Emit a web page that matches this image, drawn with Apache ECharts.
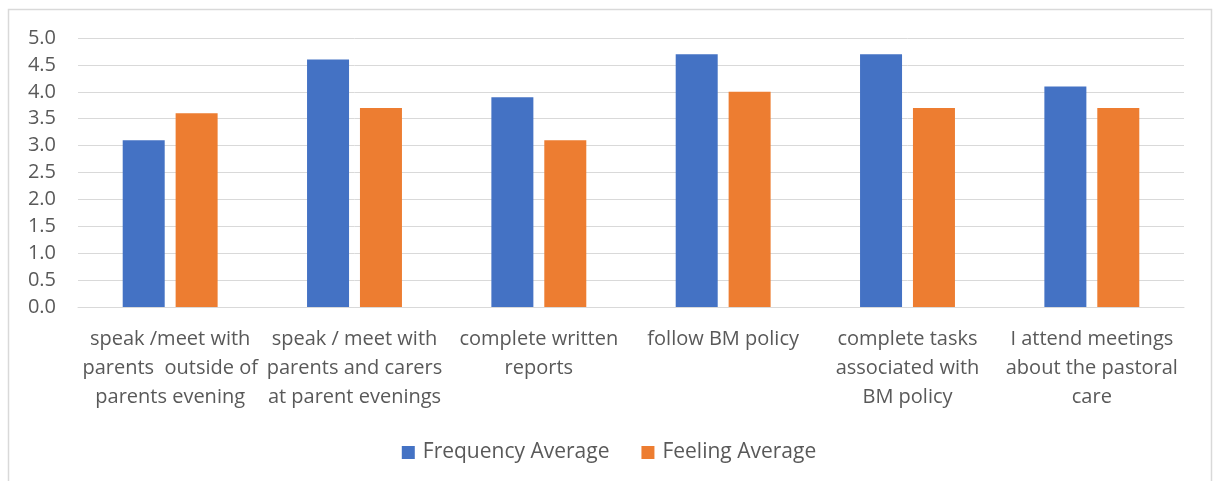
<!DOCTYPE html>
<html>
<head>
<meta charset="utf-8">
<script src="https://cdn.jsdelivr.net/npm/echarts@6/dist/echarts.min.js"></script>
<style>
  html, body { margin: 0; padding: 0; background: #ffffff; }
  #chart { width: 1218px; height: 481px; }
</style>
</head>
<body>
<div id="chart"></div>
<script>
// Category labels (line breaks as they wrap under each pair of bars)
const categories = [
  'speak /meet with\nparents  outside of\nparents evening',
  'speak / meet with\nparents and carers\nat parent evenings',
  'complete written\nreports',
  'follow BM policy',
  'complete tasks\nassociated with\nBM policy',
  'I attend meetings\nabout the pastoral\ncare'
];
const frequencyAverage = [3.1, 4.6, 3.9, 4.7, 4.7, 4.1];
const feelingAverage   = [3.6, 3.7, 3.1, 4.0, 3.7, 3.7];
const seriesNames = ['Frequency Average', 'Feeling Average'];

const FONT = '"Open Sans", "Noto Sans", sans-serif';
const TEXT = '#595959';

const chart = echarts.init(document.getElementById('chart'), null, { renderer: 'canvas' });
chart.setOption({
  animation: false,
  backgroundColor: '#ffffff',
  textStyle: { fontFamily: FONT },
  graphic: [{
    type: 'rect',
    shape: { x: 8.5, y: 9.5, width: 1203, height: 490 },
    style: { fill: 'none', stroke: '#d9d9d9', lineWidth: 1.5 },
    silent: true
  }],
  grid: { left: 78, right: 34, top: 38, bottom: 174, containLabel: false },
  legend: {
    data: seriesNames,
    bottom: 13,
    left: 'center',
    itemWidth: 13,
    itemHeight: 13,
    itemGap: 32,
    icon: 'rect',
    textStyle: { color: TEXT, fontSize: 21, fontFamily: FONT, padding: [0, 0, 0, 3] }
  },
  xAxis: {
    type: 'category',
    data: categories,
    axisTick: { show: false },
    axisLine: { show: true, lineStyle: { color: '#d9d9d9', width: 1 } },
    axisLabel: {
      interval: 0,
      color: TEXT,
      fontSize: 20,
      lineHeight: 29,
      margin: 18,
      fontFamily: FONT
    }
  },
  yAxis: {
    type: 'value',
    min: 0,
    max: 5,
    interval: 0.5,
    axisLine: { show: false },
    axisTick: { show: false },
    splitLine: { lineStyle: { color: '#d9d9d9', width: 1 } },
    axisLabel: {
      color: TEXT,
      fontSize: 20,
      margin: 22,
      fontFamily: FONT,
      formatter: v => v.toFixed(1)
    }
  },
  series: [
    {
      name: seriesNames[0],
      type: 'bar',
      data: frequencyAverage,
      itemStyle: { color: '#4472c4' },
      barWidth: 42,
      barGap: '26%'
    },
    {
      name: seriesNames[1],
      type: 'bar',
      data: feelingAverage,
      itemStyle: { color: '#ed7d31' },
      barWidth: 42,
      barGap: '26%'
    }
  ]
});
</script>
</body>
</html>
